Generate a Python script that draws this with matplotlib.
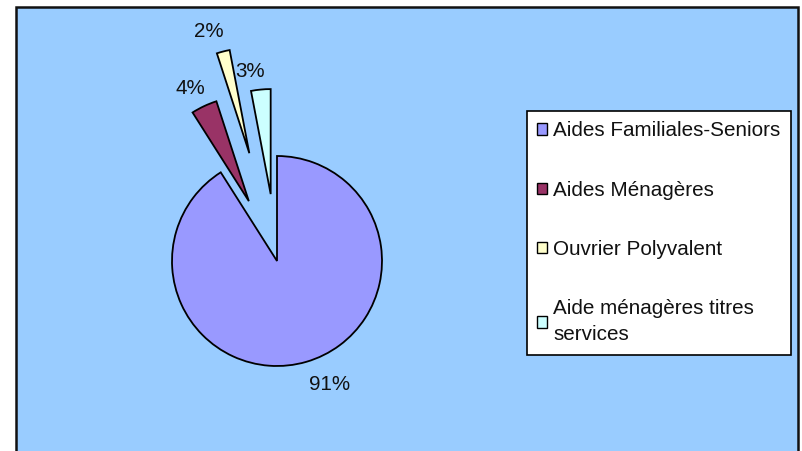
import textwrap
import matplotlib
matplotlib.use("Agg")
import matplotlib.pyplot as plt
from matplotlib.patches import Rectangle, Patch

categories = ["Aides Familiales-Seniors", "Aides Ménagères", "Ouvrier Polyvalent",
              "Aide ménagères titres services"]
values = [91, 4, 2, 3]
colors = ["#9999FF", "#993366", "#FFFFCC", "#CCFFFF"]
explode_frac = [0.0, 0.63, 1.06, 0.64]

plt.rcParams['font.family'] = ['Liberation Sans', 'DejaVu Sans']

W, H = 802, 451
R = 105
fig = plt.figure(figsize=(W / 100, H / 100), dpi=100, facecolor="white")
ax = fig.add_axes([0, 0, 1, 1])

# chart area background
ax.add_patch(Rectangle((16, -10), 782, H - 7 + 10, facecolor="#99CCFF",
                       edgecolor="#111111", linewidth=1.8, zorder=0))

wedges, texts, autotexts = ax.pie(
    values, colors=colors, explode=[e * R for e in explode_frac], startangle=90,
    counterclock=False, center=(277, H - 261), radius=R, autopct="%1.0f%%",
    pctdistance=1.22, wedgeprops=dict(edgecolor="black", linewidth=1.3),
    textprops=dict(fontsize=14.8, color="#111111"), frame=True)

# small nudges of the percentage labels (pixels)
nudges = [(17, 0), (-4, -3), (-9, -2), (-9, -5)]
for t, (dx, dy) in zip(autotexts, nudges):
    x0, y0 = t.get_position()
    t.set_position((x0 + dx, y0 + dy))

ax.set_xlim(0, W)
ax.set_ylim(0, H)
ax.set_aspect("equal")
ax.axis("off")

handles = [Patch(facecolor=c, edgecolor="black", linewidth=1.0) for c in colors]
labels = [textwrap.fill(c, 24) for c in categories]
leg = fig.legend(handles, labels, loc="upper left",
                 bbox_to_anchor=(527 / W, 1 - 111 / H), borderaxespad=0,
                 fontsize=14.9, frameon=True, fancybox=False, framealpha=1,
                 edgecolor="black", facecolor="white", labelspacing=1.95,
                 handlelength=0.46, handleheight=0.46, handletextpad=0.3,
                 borderpad=0.5, labelcolor="#111111")
for t in leg.get_texts():
    t.set_linespacing(1.45)
leg.get_frame().set_linewidth(1.2)

fig.savefig("out.png", dpi=100, facecolor="white")
